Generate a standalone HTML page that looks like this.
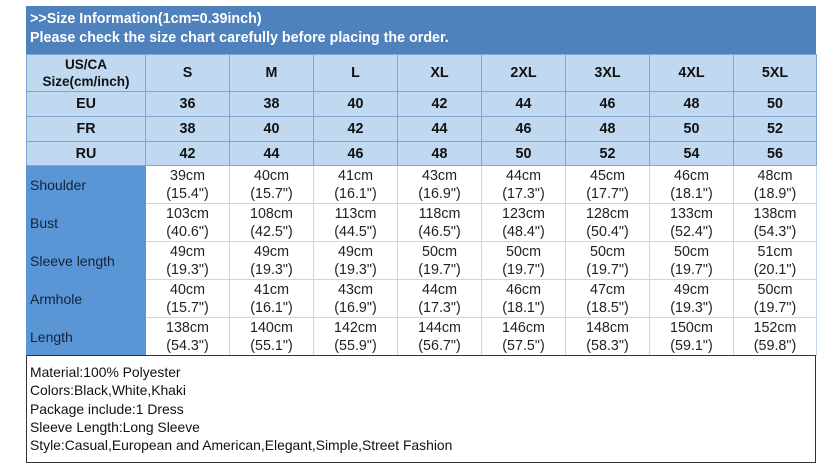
<!DOCTYPE html>
<html><head><meta charset="utf-8"><style>
body{margin:0;width:830px;height:470px;background:#fff;overflow:hidden;font-family:"Liberation Sans",Arial,sans-serif;}
#hdr{position:absolute;left:26px;top:6px;width:790px;height:48px;background:#4f81bd;color:#fff;font-weight:bold;font-size:14.3px;line-height:19px;padding:4px 0 0 4px;box-sizing:border-box;}
table{position:absolute;left:26px;top:54px;border-collapse:collapse;table-layout:fixed;}
td{padding:0;text-align:center;font-size:14.3px;color:#222;line-height:18px;}
tr.h td{background:#c0d8f0;font-weight:bold;border:1px solid #7fa6d4;color:#111;}
tr.h td.n0{font-size:13.5px;line-height:17px;}
tr.d td{background:#fff;border:1px solid #c6d7ec;}
tr.d td.n{background:#5a96d6;text-align:left;padding-left:3px;font-size:14px;color:#12233a;border-color:#5a96d6;}
#ft{position:absolute;left:26px;top:355px;width:790px;height:108px;border:1px solid #333;box-sizing:border-box;font-size:13.9px;line-height:18.3px;padding:7px 0 0 3px;color:#111;}
</style></head><body>
<div id="hdr">&gt;&gt;Size Information(1cm=0.39inch)<br>Please check the size chart carefully before placing the order.</div>
<table>
<colgroup><col style="width:119px"><col style="width:84px"><col style="width:84px"><col style="width:84px"><col style="width:84px"><col style="width:84px"><col style="width:84px"><col style="width:84px"><col style="width:83px"></colgroup>
<tr class="h" style="height:37px"><td class="n0">US/CA<br>Size(cm/inch)</td><td>S</td><td>M</td><td>L</td><td>XL</td><td>2XL</td><td>3XL</td><td>4XL</td><td>5XL</td></tr>
<tr class="h" style="height:25px"><td>EU</td><td>36</td><td>38</td><td>40</td><td>42</td><td>44</td><td>46</td><td>48</td><td>50</td></tr>
<tr class="h" style="height:25px"><td>FR</td><td>38</td><td>40</td><td>42</td><td>44</td><td>46</td><td>48</td><td>50</td><td>52</td></tr>
<tr class="h" style="height:24px"><td>RU</td><td>42</td><td>44</td><td>46</td><td>48</td><td>50</td><td>52</td><td>54</td><td>56</td></tr>
<tr class="d" style="height:38px"><td class="n">Shoulder</td><td>39cm<br>(15.4")</td><td>40cm<br>(15.7")</td><td>41cm<br>(16.1")</td><td>43cm<br>(16.9")</td><td>44cm<br>(17.3")</td><td>45cm<br>(17.7")</td><td>46cm<br>(18.1")</td><td>48cm<br>(18.9")</td></tr>
<tr class="d" style="height:38px"><td class="n">Bust</td><td>103cm<br>(40.6")</td><td>108cm<br>(42.5")</td><td>113cm<br>(44.5")</td><td>118cm<br>(46.5")</td><td>123cm<br>(48.4")</td><td>128cm<br>(50.4")</td><td>133cm<br>(52.4")</td><td>138cm<br>(54.3")</td></tr>
<tr class="d" style="height:38px"><td class="n">Sleeve length</td><td>49cm<br>(19.3")</td><td>49cm<br>(19.3")</td><td>49cm<br>(19.3")</td><td>50cm<br>(19.7")</td><td>50cm<br>(19.7")</td><td>50cm<br>(19.7")</td><td>50cm<br>(19.7")</td><td>51cm<br>(20.1")</td></tr>
<tr class="d" style="height:38px"><td class="n">Armhole</td><td>40cm<br>(15.7")</td><td>41cm<br>(16.1")</td><td>43cm<br>(16.9")</td><td>44cm<br>(17.3")</td><td>46cm<br>(18.1")</td><td>47cm<br>(18.5")</td><td>49cm<br>(19.3")</td><td>50cm<br>(19.7")</td></tr>
<tr class="d" style="height:38px"><td class="n">Length</td><td>138cm<br>(54.3")</td><td>140cm<br>(55.1")</td><td>142cm<br>(55.9")</td><td>144cm<br>(56.7")</td><td>146cm<br>(57.5")</td><td>148cm<br>(58.3")</td><td>150cm<br>(59.1")</td><td>152cm<br>(59.8")</td></tr>
</table>
<div id="ft">Material:100% Polyester<br>Colors:Black,White,Khaki<br>Package include:1 Dress<br>Sleeve Length:Long Sleeve<br>Style:Casual,European and American,Elegant,Simple,Street Fashion</div>
</body></html>
